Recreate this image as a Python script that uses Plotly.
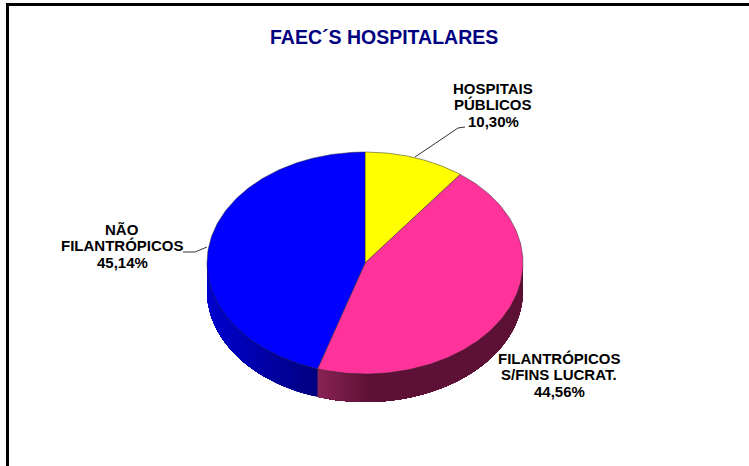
import numpy as np
import plotly.graph_objects as go

categories = ["HOSPITAIS<br>PÚBLICOS<br>10,30%", "FILANTRÓPICOS<br>S/FINS LUCRAT.<br>44,56%", "NÃO<br>FILANTRÓPICOS<br>45,14%"]
values = [10.30, 44.56, 45.14]
top_colors = ["#FFFF00", "#FF3399", "#0000FF"]
side_colors = [("#808000", "#808000"), ("#5E1136", "#8A2456"), ("#000080", "#0000D0")]
side_ramp_x = [(0, 1), (370, 318), (318, 207)]
title = "FAEC´S HOSPITALARES"

CX, CY, A, B, DEPTH = 365.0, 263.0, 158.0, 111.0, 28.0


def pt(t, dy=0.0):
    return CX + A * np.sin(t), CY - B * np.cos(t) + dy


def mix(c1, c2, f):
    a = [int(c1[i:i + 2], 16) for i in (1, 3, 5)]
    b = [int(c2[i:i + 2], 16) for i in (1, 3, 5)]
    return "rgb(%d,%d,%d)" % tuple(round(x + (y - x) * f) for x, y in zip(a, b))


fig = go.Figure()
edges = np.cumsum([0] + values) / sum(values) * 2 * np.pi

# side wall: overlapping bands painted one over the next, so no seams show
for i, (c1, c2) in enumerate(side_colors):
    lo, hi = max(edges[i], np.pi / 2), min(edges[i + 1], 3 * np.pi / 2)
    if hi <= lo:
        continue
    x_a, x_b = side_ramp_x[i]
    for s in np.linspace(lo, hi, 110, endpoint=False):
        x_s = pt(s)[0]
        f = float(np.clip((x_s - x_a) / (x_b - x_a), 0, 1))
        t = np.linspace(s, hi, 50)
        x0, y0 = pt(t)
        x1, y1 = pt(t[::-1], DEPTH)
        fig.add_trace(go.Scatter(x=np.r_[x0, x1], y=np.r_[y0, y1], mode="lines", fill="toself",
                                 fillcolor=mix(c1, c2, f), line=dict(width=0), hoverinfo="skip"))

# top slices
for i, col in enumerate(top_colors):
    t = np.linspace(edges[i], edges[i + 1], 160)
    x, y = pt(t)
    fig.add_trace(go.Scatter(x=np.r_[CX, x, CX], y=np.r_[CY, y, CY], mode="lines", fill="toself",
                             fillcolor=col, line=dict(color="rgba(40,40,40,0.7)", width=0.7), hoverinfo="skip"))

# leader lines
for xs, ys in [([415, 458, 465], [157, 128, 127]), ([183, 195, 207], [252, 252, 247])]:
    fig.add_trace(go.Scatter(x=xs, y=ys, mode="lines", line=dict(color="black", width=0.8), hoverinfo="skip"))

# frame
fig.add_trace(go.Scatter(x=[7.5, 7.5, 749], y=[466, 4.5, 4.5], mode="lines",
                         line=dict(color="black", width=3), hoverinfo="skip"))

label_pos = [(493, 88), (559, 358), (122, 229)]
LINE_STEP = 16.7
for text, (x, y) in zip(categories, label_pos):
    for k, line in enumerate(text.split("<br>")):
        fig.add_annotation(x=x, y=y + k * LINE_STEP, text=f"<b>{line}</b>", showarrow=False, align="center",
                           font=dict(family="Liberation Sans", size=15, color="black"))
fig.add_annotation(x=383.5, y=37, text=f"<b>{title}</b>", showarrow=False,
                   font=dict(family="Liberation Sans", size=19.5, color="#000080"))

fig.update_layout(width=749, height=466, margin=dict(l=0, r=0, t=0, b=0), showlegend=False,
                  paper_bgcolor="white", plot_bgcolor="white",
                  xaxis=dict(range=[0, 749], visible=False, fixedrange=True),
                  yaxis=dict(range=[466, 0], visible=False, fixedrange=True))
fig.write_html("out.html", config={"displayModeBar": False},
               post_script="document.body.style.margin='0';document.body.style.overflow='hidden';")
